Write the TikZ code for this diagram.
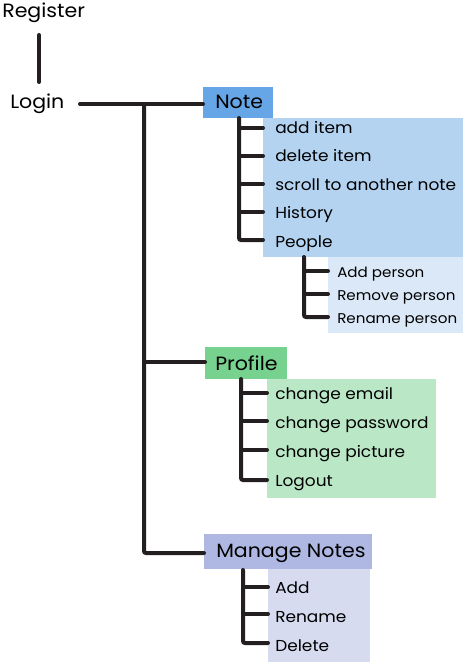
\documentclass[tikz,border=0pt]{standalone}
\usepackage{fontspec}
\setmainfont[FakeStretch=1.07]{Poppins}
\definecolor{linec}{HTML}{231F20}
\definecolor{noteA}{HTML}{66A6E6}
\definecolor{noteB}{HTML}{B3D3F1}
\definecolor{noteC}{HTML}{DAE8F7}
\definecolor{profA}{HTML}{77D18F}
\definecolor{profB}{HTML}{BAE8C7}
\definecolor{manA}{HTML}{AEB8E2}
\definecolor{manB}{HTML}{D7DBF0}
\begin{document}
\begin{tikzpicture}[x=0.75pt,y=-0.75pt,
  panel/.style={draw=none,inner sep=0pt,outer sep=0pt,anchor=north west},
  mainlbl/.style={inner sep=0pt,anchor=base west,font=\fontsize{14.4}{16}\selectfont,text=black},
  itemlbl/.style={inner sep=0pt,anchor=base west,font=\fontsize{11.9}{13}\selectfont,text=black},
  sublbl/.style={inner sep=0pt,anchor=base west,font=\fontsize{10.6}{12}\selectfont,text=black},
  conn/.style={draw=linec,line width=3pt,rounded corners=1.5pt,line cap=round}]
\useasboundingbox (0,0) rectangle (463,663);
% panels
\node[panel,fill=noteB,minimum width=200*0.75pt,minimum height=139*0.75pt] (notepanel) at (263,118) {};
\node[panel,fill=noteC,minimum width=135*0.75pt,minimum height=76*0.75pt] (peoplepanel) at (328,257) {};
\node[panel,fill=noteA,minimum width=70*0.75pt,minimum height=31*0.75pt] (notebox) at (203,87) {};
\node[panel,fill=profB,minimum width=169*0.75pt,minimum height=119*0.75pt] (profpanel) at (267,379) {};
\node[panel,fill=profA,minimum width=82*0.75pt,minimum height=32*0.75pt] (profbox) at (205,347) {};
\node[panel,fill=manB,minimum width=102*0.75pt,minimum height=93*0.75pt] (manpanel) at (268,569) {};
\node[panel,fill=manA,minimum width=168*0.75pt,minimum height=35*0.75pt] (manbox) at (204,534) {};
% labels
\node[mainlbl] (register) at (2,18) {Register};
\node[mainlbl] (login) at (10,109) {Login};
\node[mainlbl] (note) at (215,109) {Note};
\node[itemlbl] (additem) at (275,133) {add item};
\node[itemlbl] (delitem) at (275,161.5) {delete item};
\node[itemlbl] (scroll) at (275,190) {scroll to another note};
\node[itemlbl] (history) at (275,218.5) {History};
\node[itemlbl] (people) at (275,247) {People};
\node[sublbl] (addp) at (337,277) {Add person};
\node[sublbl] (remp) at (337,300) {Remove person};
\node[sublbl] (renp) at (337,323) {Rename person};
\node[mainlbl] (profile) at (215,370) {Profile};
\node[itemlbl] (email) at (275,399) {change email};
\node[itemlbl] (pass) at (275,428) {change password};
\node[itemlbl] (pic) at (275,457) {change picture};
\node[itemlbl] (logout) at (275,486.5) {Logout};
\node[mainlbl] (manage) at (216,557) {Manage Notes};
\node[itemlbl] (madd) at (275,593) {Add};
\node[itemlbl] (mren) at (275,622) {Rename};
\node[itemlbl] (mdel) at (275,651) {Delete};
% coordinates
\coordinate (regdown) at (39,35);
\coordinate (logup) at (39,82);
\coordinate (logright) at (80,104);
\coordinate (trunk) at (144,104);
% connectors
\draw[conn] (regdown) -- (logup);
\draw[conn] (logright) -- (notebox.west |- logright);
\draw[conn] (trunk) |- (manbox.west |- 0,553);
\draw[conn] (144,362) -- (profbox.west |- 0,362);
% note children
\draw[conn] (239,118) |- (notepanel.west |- 0,240);
\foreach \y in {128,156,184,212}{\draw[conn] (239,\y) -- (263,\y);}
% people children
\draw[conn] (304,257) |- (peoplepanel.west |- 0,317);
\foreach \y in {271,294}{\draw[conn] (304,\y) -- (328,\y);}
% profile children
\draw[conn] (241,379) |- (profpanel.west |- 0,480);
\foreach \y in {393,421,450}{\draw[conn] (241,\y) -- (267,\y);}
% manage children
\draw[conn] (243,570) |- (manpanel.west |- 0,643);
\foreach \y in {587,614}{\draw[conn] (243,\y) -- (268,\y);}
\end{tikzpicture}
\end{document}
